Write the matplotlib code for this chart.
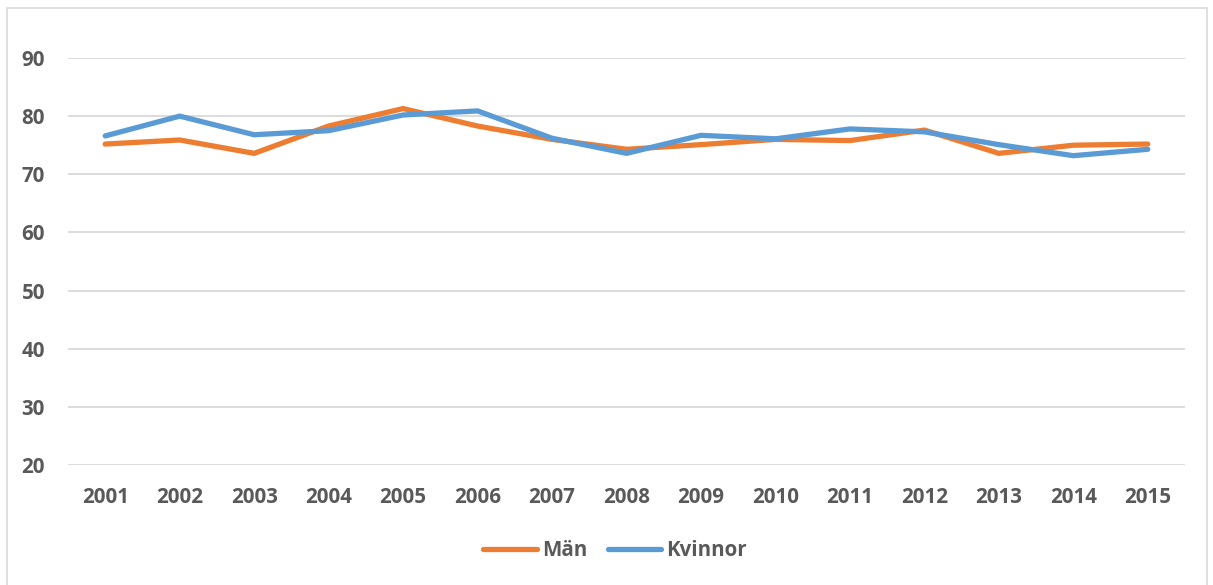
import matplotlib
matplotlib.use("Agg")
import matplotlib.pyplot as plt
from matplotlib.patches import Rectangle
from matplotlib.lines import Line2D

years = ["2001", "2002", "2003", "2004", "2005", "2006", "2007", "2008",
         "2009", "2010", "2011", "2012", "2013", "2014", "2015"]
man = [75.2, 75.9, 73.6, 78.3, 81.3, 78.3, 76.0, 74.3, 75.1, 76.0, 75.8, 77.6, 73.6, 75.0, 75.2]
kvinnor = [76.6, 80.0, 76.8, 77.5, 80.2, 80.9, 76.2, 73.6, 76.7, 76.1, 77.8, 77.3, 75.1, 73.2, 74.3]
yticks = [20, 30, 40, 50, 60, 70, 80, 90]

W, H = 1213, 585
fig = plt.figure(figsize=(W / 100, H / 100), dpi=100)
plt.rcParams['font.family'] = ['Open Sans', 'DejaVu Sans']
FS = 14.8

# chart border
fig.patches.append(Rectangle((7 / W, 1 - 590 / H), 1200 / W, 582 / H,
                             transform=fig.transFigure, fill=False,
                             edgecolor="#D9D9D9", lw=1.2, clip_on=False))

left, right = 68 / W, 1185 / W
bottom, top = 1 - 465 / H, 1 - 58 / H
ax = fig.add_axes([left, bottom, right - left, top - bottom])
x = list(range(len(years)))
ax.set_xlim(-0.5, len(years) - 0.5)
ax.set_ylim(20, 90)
for yv in yticks:
    ax.axhline(yv, color="#D9D9D9", lw=1.3, zorder=0)
ax.plot(x, man, color="#ED7D31", lw=3.8, solid_capstyle="round", solid_joinstyle="miter", clip_on=False, zorder=3, label="Män")
ax.plot(x, kvinnor, color="#5B9BD5", lw=3.8, solid_capstyle="round", solid_joinstyle="miter", clip_on=False, zorder=4, label="Kvinnor")

for s in ax.spines.values():
    s.set_visible(False)
ax.set_xticks(x)
ax.set_xticklabels(years)
ax.set_yticks(yticks)
ax.tick_params(length=0, labelsize=FS, labelcolor="#595959")
ax.tick_params(axis="x", pad=16)
ax.tick_params(axis="y", pad=16.5)
for lab in ax.get_xticklabels() + ax.get_yticklabels():
    lab.set_fontweight("bold")

handles = [Line2D([], [], color="#ED7D31", lw=3.8, solid_capstyle="round"),
           Line2D([], [], color="#5B9BD5", lw=3.8, solid_capstyle="round")]
leg = fig.legend(handles, ["Män", "Kvinnor"], loc="center", bbox_to_anchor=(615 / W, 1 - 551 / H),
                 ncol=2, frameon=False, handlelength=2.6, handletextpad=0.25, columnspacing=1.0,
                 prop={"size": FS, "weight": "bold"})
for t in leg.get_texts():
    t.set_color("#595959")

fig.savefig("out.png", dpi=100)
